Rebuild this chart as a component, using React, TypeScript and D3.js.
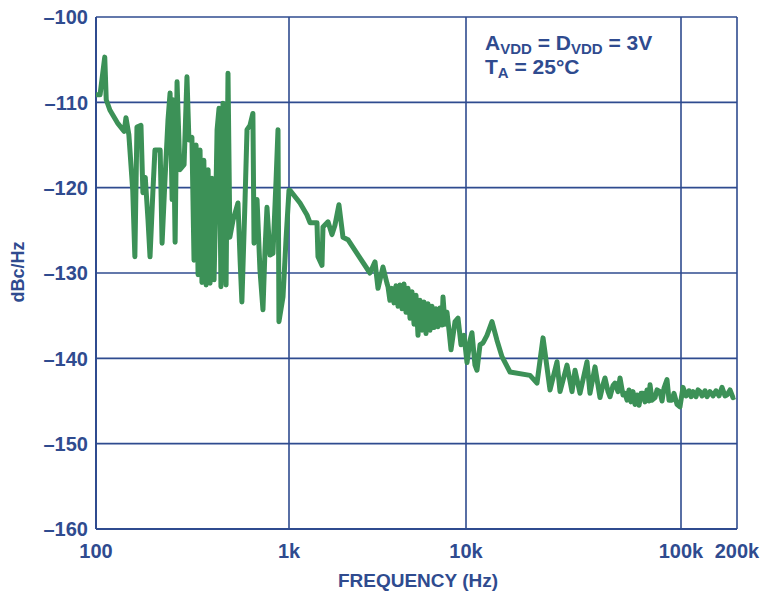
import React from 'react';
import * as d3 from 'd3';

// phase noise trace (Hz, dBc/Hz), one decade per block
const freqHz = [
  // 100 .. 1k
  100, 105, 111, 113, 118, 130, 140, 143, 148, 155,
  159, 163, 171, 175, 180, 186, 190.5, 197, 202, 215,
  220, 228, 236, 242, 248, 251, 257, 263, 272, 286,
  296, 303, 314, 322, 330, 338, 346, 354, 362, 372,
  381, 390, 399, 409, 419, 424, 434, 444, 455, 466,
  472, 483, 494, 513, 544, 558, 570, 592, 606, 628,
  650, 659, 683, 707, 733, 751, 769, 797, 826, 857,
  877, 887, 931, 965, 1000,
  // 1k .. 10k
  1013, 1154, 1264, 1314, 1439, 1458, 1536, 1556, 1661, 1749,
  1818, 1915, 2018, 2153, 2866, 3061, 3183, 3396, 3576, 3625,
  3716, 3819, 3920, 4023, 4129, 4238, 4350, 4465, 4581, 4703,
  4827, 4953, 5085, 5218, 5355, 5498, 5642, 5791, 5943, 6100,
  6260, 6426, 6594, 6768, 6947, 7130, 7318, 7415, 7610, 7810,
  8017, 8228, 8668, 9014, 9372, 9743,
  // 10k .. 100k
  10110, 10440, 10660, 11010, 11250, 11620, 12000, 12520, 13210, 13940,
  14700, 16020, 19850, 21390, 22820, 24590, 26500, 27370, 29500, 31120,
  32140, 33900, 36540, 37730, 39810, 42000, 43370, 44310, 45770, 46750,
  48270, 49320, 50930, 52040, 53730, 54890, 56090, 57300, 58530, 59800,
  61090, 62430, 63790, 65160, 66580, 68020, 69500, 71000, 71770, 73330,
  75720, 77350, 79870, 81600, 83370, 86090, 87960, 90810, 92780, 95810,
  98900,
  // 100k .. 200k
  102500, 106400, 110400, 113200, 116000, 120400, 123400, 126500, 129700, 134600,
  138000, 143200, 148600, 154200, 160100, 166100, 172400, 176700, 183400, 190300,
  195100,
];
const dbcHz = [
  // 100 .. 1k
  -109.1, -109.1, -104.7, -109.7, -110.9, -112.5, -113.4, -111.8, -113.8, -120.3,
  -128.1, -112.9, -112.7, -120.6, -118.8, -123.8, -128.1, -120.6, -115.6, -115.6,
  -126.5, -118.8, -112.1, -108.9, -121.4, -109.7, -126.4, -107.6, -117.9, -117.3,
  -107.0, -114.4, -114.1, -128.5, -115.0, -130.2, -115.6, -131.1, -116.8, -131.4,
  -117.9, -131.2, -118.9, -130.8, -119.7, -113.2, -110.7, -131.6, -110.1, -126.1,
  -131.4, -106.6, -125.8, -123.8, -121.8, -128.5, -133.4, -121.4, -113.2, -112.7,
  -111.3, -126.5, -121.4, -129.6, -134.3, -127.3, -122.3, -127.9, -127.7, -119.1,
  -113.2, -135.7, -132.8, -126.1, -120.3,
  // 1k .. 10k
  -120.3, -121.8, -123.2, -124.1, -124.1, -128.1, -129.1, -124.6, -124.0, -125.5,
  -124.4, -122.0, -125.8, -126.1, -130.0, -128.7, -131.8, -129.3, -131.2, -131.6,
  -133.2, -131.8, -133.5, -131.5, -133.9, -131.4, -134.2, -131.3, -134.6, -131.8,
  -135.3, -132.2, -136.0, -132.6, -137.3, -133.2, -136.7, -133.4, -137.1, -133.6,
  -136.7, -133.9, -136.4, -134.2, -136.3, -134.1, -136.1, -132.8, -136.0, -134.6,
  -136.7, -139.0, -135.7, -135.3, -138.4, -137.3,
  // 10k .. 100k
  -140.5, -137.9, -137.0, -140.8, -141.4, -138.4, -138.2, -137.3, -135.7, -137.9,
  -139.8, -141.6, -142.0, -142.9, -137.6, -143.7, -140.4, -143.9, -140.8, -143.9,
  -141.4, -144.1, -140.4, -144.1, -141.0, -144.6, -143.1, -142.3, -143.9, -144.5,
  -143.2, -142.9, -143.9, -142.3, -144.3, -144.1, -144.9, -143.7, -145.1, -143.9,
  -145.4, -144.3, -145.5, -144.1, -144.1, -145.1, -143.7, -145.0, -143.1, -144.9,
  -144.6, -143.7, -143.9, -145.0, -143.5, -142.5, -144.9, -144.9, -144.1, -145.4,
  -145.7,
  // 100k .. 200k
  -143.4, -144.4, -143.8, -144.5, -143.9, -144.5, -143.7, -143.9, -144.4, -143.8,
  -144.5, -143.9, -144.4, -143.8, -144.4, -143.4, -144.4, -144.3, -143.7, -144.6,
  -144.5,
];

const xTicks = [100, 1000, 10000, 100000, 200000];
const xTickLabels = ['100', '1k', '10k', '100k', '200k'];
const yTicks = [-100, -110, -120, -130, -140, -150, -160];

const W = 763, H = 595;
const blue = '#2f4b8f';
const green = '#3c9157';
const font = '"Liberation Sans", Arial, sans-serif';

export default function App() {
  // the printed log axis is not evenly spaced, so map decade by decade
  const x = d3.scaleLog().domain(xTicks).range([96, 289, 466, 681, 737]);
  const y = d3.scaleLinear().domain([-160, -100]).range([529, 17]);
  const [x0, x1] = [x(100), x(200000)];
  const [y0, y1] = [y(-160), y(-100)];

  const pts = freqHz.map((f, i) => [f, dbcHz[i]] as [number, number]);
  const line = d3.line<[number, number]>().x(d => x(d[0])).y(d => y(d[1]));

  return (
    <svg width={W} height={H} style={{ position: 'absolute', left: 0, top: 0, background: '#fff' }}>
      <g fontFamily={font} fontWeight="bold" fill={blue}>
        {yTicks.map(t => (
          <g key={t}>
            <line x1={x0} x2={x1} y1={y(t)} y2={y(t)} stroke={blue} strokeWidth={1.6} />
            <text x={88} y={y(t)} dy="0.36em" textAnchor="end" fontSize={20}>
              {'\u2013' + Math.abs(t)}
            </text>
          </g>
        ))}
        {xTicks.map((t, i) => (
          <g key={t}>
            <line x1={x(t)} x2={x(t)} y1={y1} y2={y0} stroke={blue} strokeWidth={1.6} />
            <text x={x(t)} y={558} textAnchor="middle" fontSize={20}>{xTickLabels[i]}</text>
          </g>
        ))}
        <line x1={x0} x2={x0} y1={y1} y2={y0} stroke={blue} strokeWidth={2} />
        <line x1={x0} x2={x1} y1={y0} y2={y0} stroke={blue} strokeWidth={2} />

        <path d={line(pts) ?? ''} fill="none" stroke={green} strokeWidth={5} strokeLinejoin="round" />

        <text x={418} y={587} textAnchor="middle" fontSize={19}>FREQUENCY (Hz)</text>
        <text transform="translate(24,272) rotate(-90)" textAnchor="middle" fontSize={18}>dBc/Hz</text>

        <text x={485} y={50} fontSize={21}>
          A<tspan fontSize={15} dy={4}>VDD</tspan>
          <tspan dy={-4}> = D</tspan>
          <tspan fontSize={15} dy={4}>VDD</tspan>
          <tspan dy={-4}> = 3V</tspan>
        </text>
        <text x={485} y={74} fontSize={21}>
          T<tspan fontSize={15} dy={4}>A</tspan>
          <tspan dy={-4}> = 25°C</tspan>
        </text>
      </g>
    </svg>
  );
}
